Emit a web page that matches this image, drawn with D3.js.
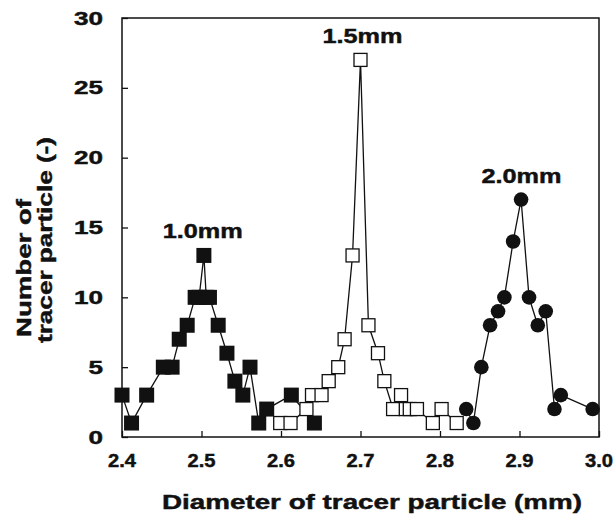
<!DOCTYPE html>
<html>
<head>
<meta charset="utf-8">
<script src="https://cdn.jsdelivr.net/npm/d3@7"></script>
<style>
  body { margin: 0; background: #fff; }
  text { font-family: "Liberation Sans", Arial, sans-serif; font-weight: bold; fill: #111; stroke: #111; stroke-width: 0.45px; }
</style>
</head>
<body>
<div id="chart"></div>
<script>
// 1.0 mm tracer (filled squares)
var d10x = [2.40, 2.412, 2.431, 2.452, 2.463, 2.472, 2.482, 2.492, 2.497, 2.503, 2.506, 2.51, 2.521, 2.532, 2.542, 2.552, 2.561, 2.572, 2.582, 2.613, 2.642];
var d10y = [3, 1, 3, 5, 5, 7, 8, 10, 10, 13, 10, 10, 8, 6, 4, 3, 5, 1, 2, 3, 1];

// 1.5 mm tracer (open squares)
var d15x = [2.599, 2.612, 2.632, 2.639, 2.651, 2.66, 2.672, 2.68, 2.69, 2.70, 2.71, 2.722, 2.73, 2.741, 2.751, 2.757, 2.762, 2.771, 2.791, 2.802, 2.821];
var d15y = [1, 1, 2, 3, 3, 4, 5, 7, 13, 27, 8, 6, 4, 2, 3, 2, 2, 2, 1, 2, 1];

// 2.0 mm tracer (filled circles)
var d20x = [2.833, 2.842, 2.852, 2.863, 2.873, 2.881, 2.892, 2.902, 2.912, 2.923, 2.933, 2.944, 2.952, 2.992];
var d20y = [2, 1, 5, 8, 9, 10, 14, 17, 10, 8, 9, 2, 3, 2];

var xTicks = [2.4, 2.5, 2.6, 2.7, 2.8, 2.9, 3.0];
var yTicks = [0, 5, 10, 15, 20, 25, 30];

var labels = [
    {text: "1.0mm", x: 2.5015, y: 14.25},
    {text: "1.5mm", x: 2.7025, y: 28.2},
    {text: "2.0mm", x: 2.9025, y: 18.2}
];

function pairs(xs, ys) {
    return xs.map(function (x, i) { return {x: x, y: ys[i]}; });
}

function chart() {
    var w = 615;
    var h = 516;
    var left = 122, right = 599, top = 18, bottom = 437;

    var svg = d3.select("#chart")
            .append("svg")
            .attr("width", w)
            .attr("height", h);

    var x = d3.scaleLinear().domain([2.4, 3.0]).range([left, right]);
    var y = d3.scaleLinear().domain([0, 30]).range([bottom, top]);

    // frame
    svg.append("rect")
        .attr("x", left).attr("y", top)
        .attr("width", right - left).attr("height", bottom - top)
        .attr("fill", "none").attr("stroke", "#111").attr("stroke-width", 1.5);

    var xAxis = svg.append("g")
        .attr("transform", "translate(0," + bottom + ")")
        .call(d3.axisTop(x).tickValues(xTicks).tickSize(6).tickFormat(""));
    xAxis.select(".domain").remove();
    xAxis.selectAll("line").attr("stroke", "#111").attr("stroke-width", 1.3);

    var yAxis = svg.append("g")
        .attr("transform", "translate(" + left + ",0)")
        .call(d3.axisRight(y).tickValues(yTicks).tickSize(6).tickFormat(""));
    yAxis.select(".domain").remove();
    yAxis.selectAll("line").attr("stroke", "#111").attr("stroke-width", 1.3);

    // tick labels (wide, heavy face: stretch glyphs to the measured widths)
    svg.selectAll(".xl")
        .data(xTicks)
        .enter()
        .append("text")
        .attr("x", function (d) { return x(d); })
        .attr("y", 467)
        .attr("text-anchor", "middle")
        .attr("font-size", 18)
        .attr("textLength", 28)
        .attr("lengthAdjust", "spacingAndGlyphs")
        .text(function (d) { return d.toFixed(1); });

    svg.selectAll(".yl")
        .data(yTicks)
        .enter()
        .append("text")
        .attr("x", 103)
        .attr("y", function (d) { return y(d) + 6.5; })
        .attr("text-anchor", "end")
        .attr("font-size", 18)
        .attr("textLength", function (d) { return String(d).length * 14.5; })
        .attr("lengthAdjust", "spacingAndGlyphs")
        .text(function (d) { return d; });

    // axis titles
    svg.append("text")
        .attr("x", 372).attr("y", 509)
        .attr("text-anchor", "middle")
        .attr("font-size", 20.5)
        .attr("textLength", 420)
        .attr("lengthAdjust", "spacingAndGlyphs")
        .text("Diameter of tracer particle (mm)");

    svg.append("text")
        .attr("transform", "translate(31,337) rotate(-90)")
        .attr("font-size", 21)
        .attr("textLength", 138)
        .attr("lengthAdjust", "spacingAndGlyphs")
        .text("Number of");

    svg.append("text")
        .attr("transform", "translate(52,343) rotate(-90)")
        .attr("font-size", 21)
        .attr("textLength", 206)
        .attr("lengthAdjust", "spacingAndGlyphs")
        .text("tracer particle (-)");

    var line = d3.line()
        .x(function (d) { return x(d.x); })
        .y(function (d) { return y(d.y); });

    var s10 = pairs(d10x, d10y);
    var s15 = pairs(d15x, d15y);
    var s20 = pairs(d20x, d20y);

    [s10, s15, s20].forEach(function (s) {
        svg.append("path")
            .datum(s)
            .attr("d", line)
            .attr("fill", "none")
            .attr("stroke", "#111")
            .attr("stroke-width", 1.3);
    });

    svg.selectAll(".sq10")
        .data(s10)
        .enter()
        .append("rect")
        .attr("x", function (d) { return x(d.x) - 7.5; })
        .attr("y", function (d) { return y(d.y) - 7.5; })
        .attr("width", 15)
        .attr("height", 15)
        .attr("fill", "#111");

    svg.selectAll(".sq15")
        .data(s15)
        .enter()
        .append("rect")
        .attr("x", function (d) { return x(d.x) - 6.5; })
        .attr("y", function (d) { return y(d.y) - 6.5; })
        .attr("width", 13)
        .attr("height", 13)
        .attr("fill", "#fff")
        .attr("stroke", "#111")
        .attr("stroke-width", 1.3);

    svg.selectAll(".c20")
        .data(s20)
        .enter()
        .append("circle")
        .attr("cx", function (d) { return x(d.x); })
        .attr("cy", function (d) { return y(d.y); })
        .attr("r", 7.3)
        .attr("fill", "#111");

    svg.selectAll(".lab")
        .data(labels)
        .enter()
        .append("text")
        .attr("x", function (d) { return x(d.x); })
        .attr("y", function (d) { return y(d.y); })
        .attr("text-anchor", "middle")
        .attr("font-size", 20)
        .attr("textLength", 80)
        .attr("lengthAdjust", "spacingAndGlyphs")
        .text(function (d) { return d.text; });
}

window.onload = chart;
</script>
</body>
</html>
